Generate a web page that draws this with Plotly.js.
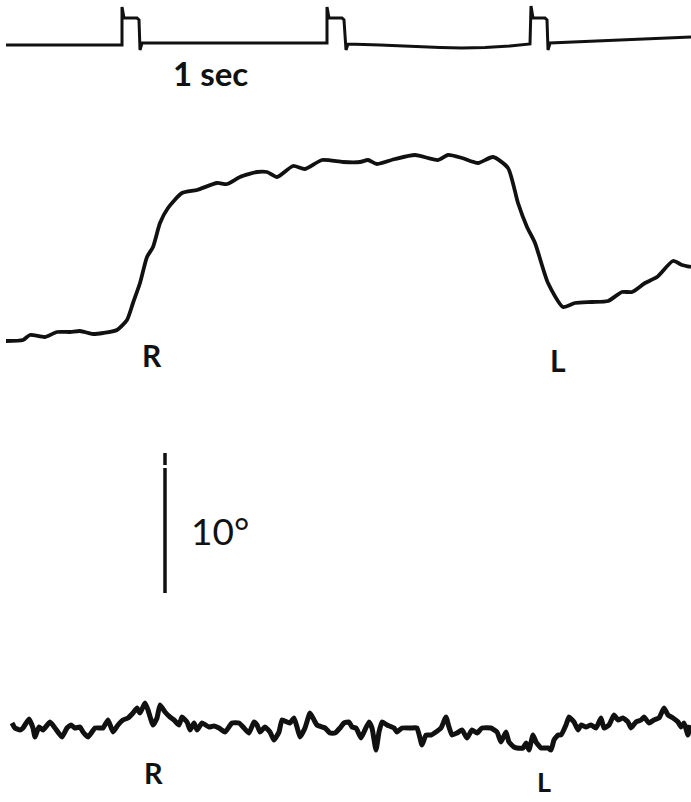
<!DOCTYPE html>
<html><head><meta charset="utf-8">
<script src="https://cdn.plot.ly/plotly-3.0.1.min.js"></script>
<style>html,body{margin:0;padding:0;background:#fff}#c{width:691px;height:802px}</style>
</head><body><div id="c"></div>
<script>
// Timing marker trace (1 pulse per second)
const timeX = [6,122,122,124,137,139,140,142,250,327,327,329,342,344,346,348,380,410,440,462,485,510,530,531,533,545,547,548,550,620,691];
const timeY = [45,45,7,18,18,20,50,43,43,43,7,18,18,20,50,44,45,46.5,47.5,48,47.5,46,44,6,18,18,20,50,43,40,37];

// Eye position trace (middle)
const eyeX = [6,23,30,45,57,70,80,93,103,117,127,133,140,147,153,160,168,182,197,217,227,240,257,267,277,293,305,322,343,360,368,377,395,415,438,448,462,478,493,508,518,527,535,548,563,575,592,608,622,632,645,657,673,682,691];
const eyeY = [341,340,335,337,332,332,331,334,333,330,320,303,283,257,247,223,208,193,190,183,184,177,172,172,177,166,169,160,162,162,160,164,159,155,160,155,158,163,157,168,203,227,243,283,307,303,302,301,292,292,283,277,261,265,267];

// Noise trace (bottom)
const noiseX = [12,15,20,23,29,33,35,39,43,50,55,62,67,71,75,80,83,88,95,100,103,108,113,118,123,128,133,137,140,145,148,153,157,160,165,170,174,179,182,187,190,194,197,202,209,214,219,225,232,239,244,249,254,257,260,265,270,274,279,282,287,290,294,297,300,305,310,314,317,322,325,330,335,340,344,349,352,356,361,364,369,372,376,379,382,387,394,397,402,411,417,422,426,431,436,441,446,449,452,457,462,467,472,477,482,491,497,501,506,509,514,517,523,526,529,533,536,541,548,551,554,558,561,566,569,574,578,581,586,591,596,601,604,609,614,618,623,628,631,636,641,644,649,654,659,664,668,673,678,681,684,688,690];
const noiseY = [723,728,730,728,719,728,737,727,730,722,728,737,728,725,728,727,732,737,728,728,728,720,732,725,720,718,713,708,713,703,710,725,718,705,712,717,720,725,717,722,730,723,730,723,727,726,728,732,723,723,728,733,722,725,732,727,732,740,732,720,722,723,718,727,737,728,713,720,725,727,728,733,733,728,723,722,727,728,738,732,722,728,750,732,722,725,728,732,728,728,728,745,735,735,732,728,717,727,735,733,730,738,730,733,728,728,732,742,732,742,747,748,748,743,750,735,742,748,748,750,740,735,735,725,717,722,730,725,727,725,728,718,728,725,715,720,718,722,728,722,720,717,723,720,718,708,715,718,722,727,723,735,725];

// Calibration bar (10 degrees)
const barX = [165,165,null,165,165];
const barY = [453,465,null,468,593];

const labels = [
  {text:'1 sec', x:210, y:73, size:33, weight:'bold'},
  {text:'R', x:152, y:355, size:30, weight:'bold'},
  {text:'L', x:558, y:360, size:30, weight:'bold'},
  {text:'10°', x:220, y:530, size:37, weight:'normal'},
  {text:'R', x:153, y:772, size:29, weight:'bold'},
  {text:'L', x:544, y:781, size:27, weight:'bold'}
];

const traces = [
  {x:timeX, y:timeY, mode:'lines', line:{color:'#111', width:3}, hoverinfo:'skip'},
  {x:eyeX, y:eyeY, mode:'lines', line:{color:'#111', width:3.8, shape:'spline', smoothing:0.6}, hoverinfo:'skip'},
  {x:noiseX, y:noiseY, mode:'lines', line:{color:'#111', width:5, shape:'spline', smoothing:0.4}, hoverinfo:'skip'},
  {x:barX, y:barY, mode:'lines', line:{color:'#111', width:3.5}, hoverinfo:'skip'}
];

const layout = {
  width:691, height:802,
  margin:{l:0,r:0,t:0,b:0},
  paper_bgcolor:'#fff', plot_bgcolor:'#fff',
  showlegend:false,
  xaxis:{range:[0,691], visible:false, fixedrange:true},
  yaxis:{range:[802,0], visible:false, fixedrange:true},
  annotations: labels.map(l => ({
    text: l.weight==='bold' ? '<b>'+l.text+'</b>' : l.text,
    x:l.x, y:l.y, xref:'x', yref:'y', showarrow:false,
    xanchor:'center', yanchor:'middle',
    font:{family:'Lato, "DejaVu Sans", sans-serif', size:l.size, color:'#111'}
  }))
};

Plotly.newPlot('c', traces, layout, {staticPlot:true, displayModeBar:false});
</script>
</body></html>
